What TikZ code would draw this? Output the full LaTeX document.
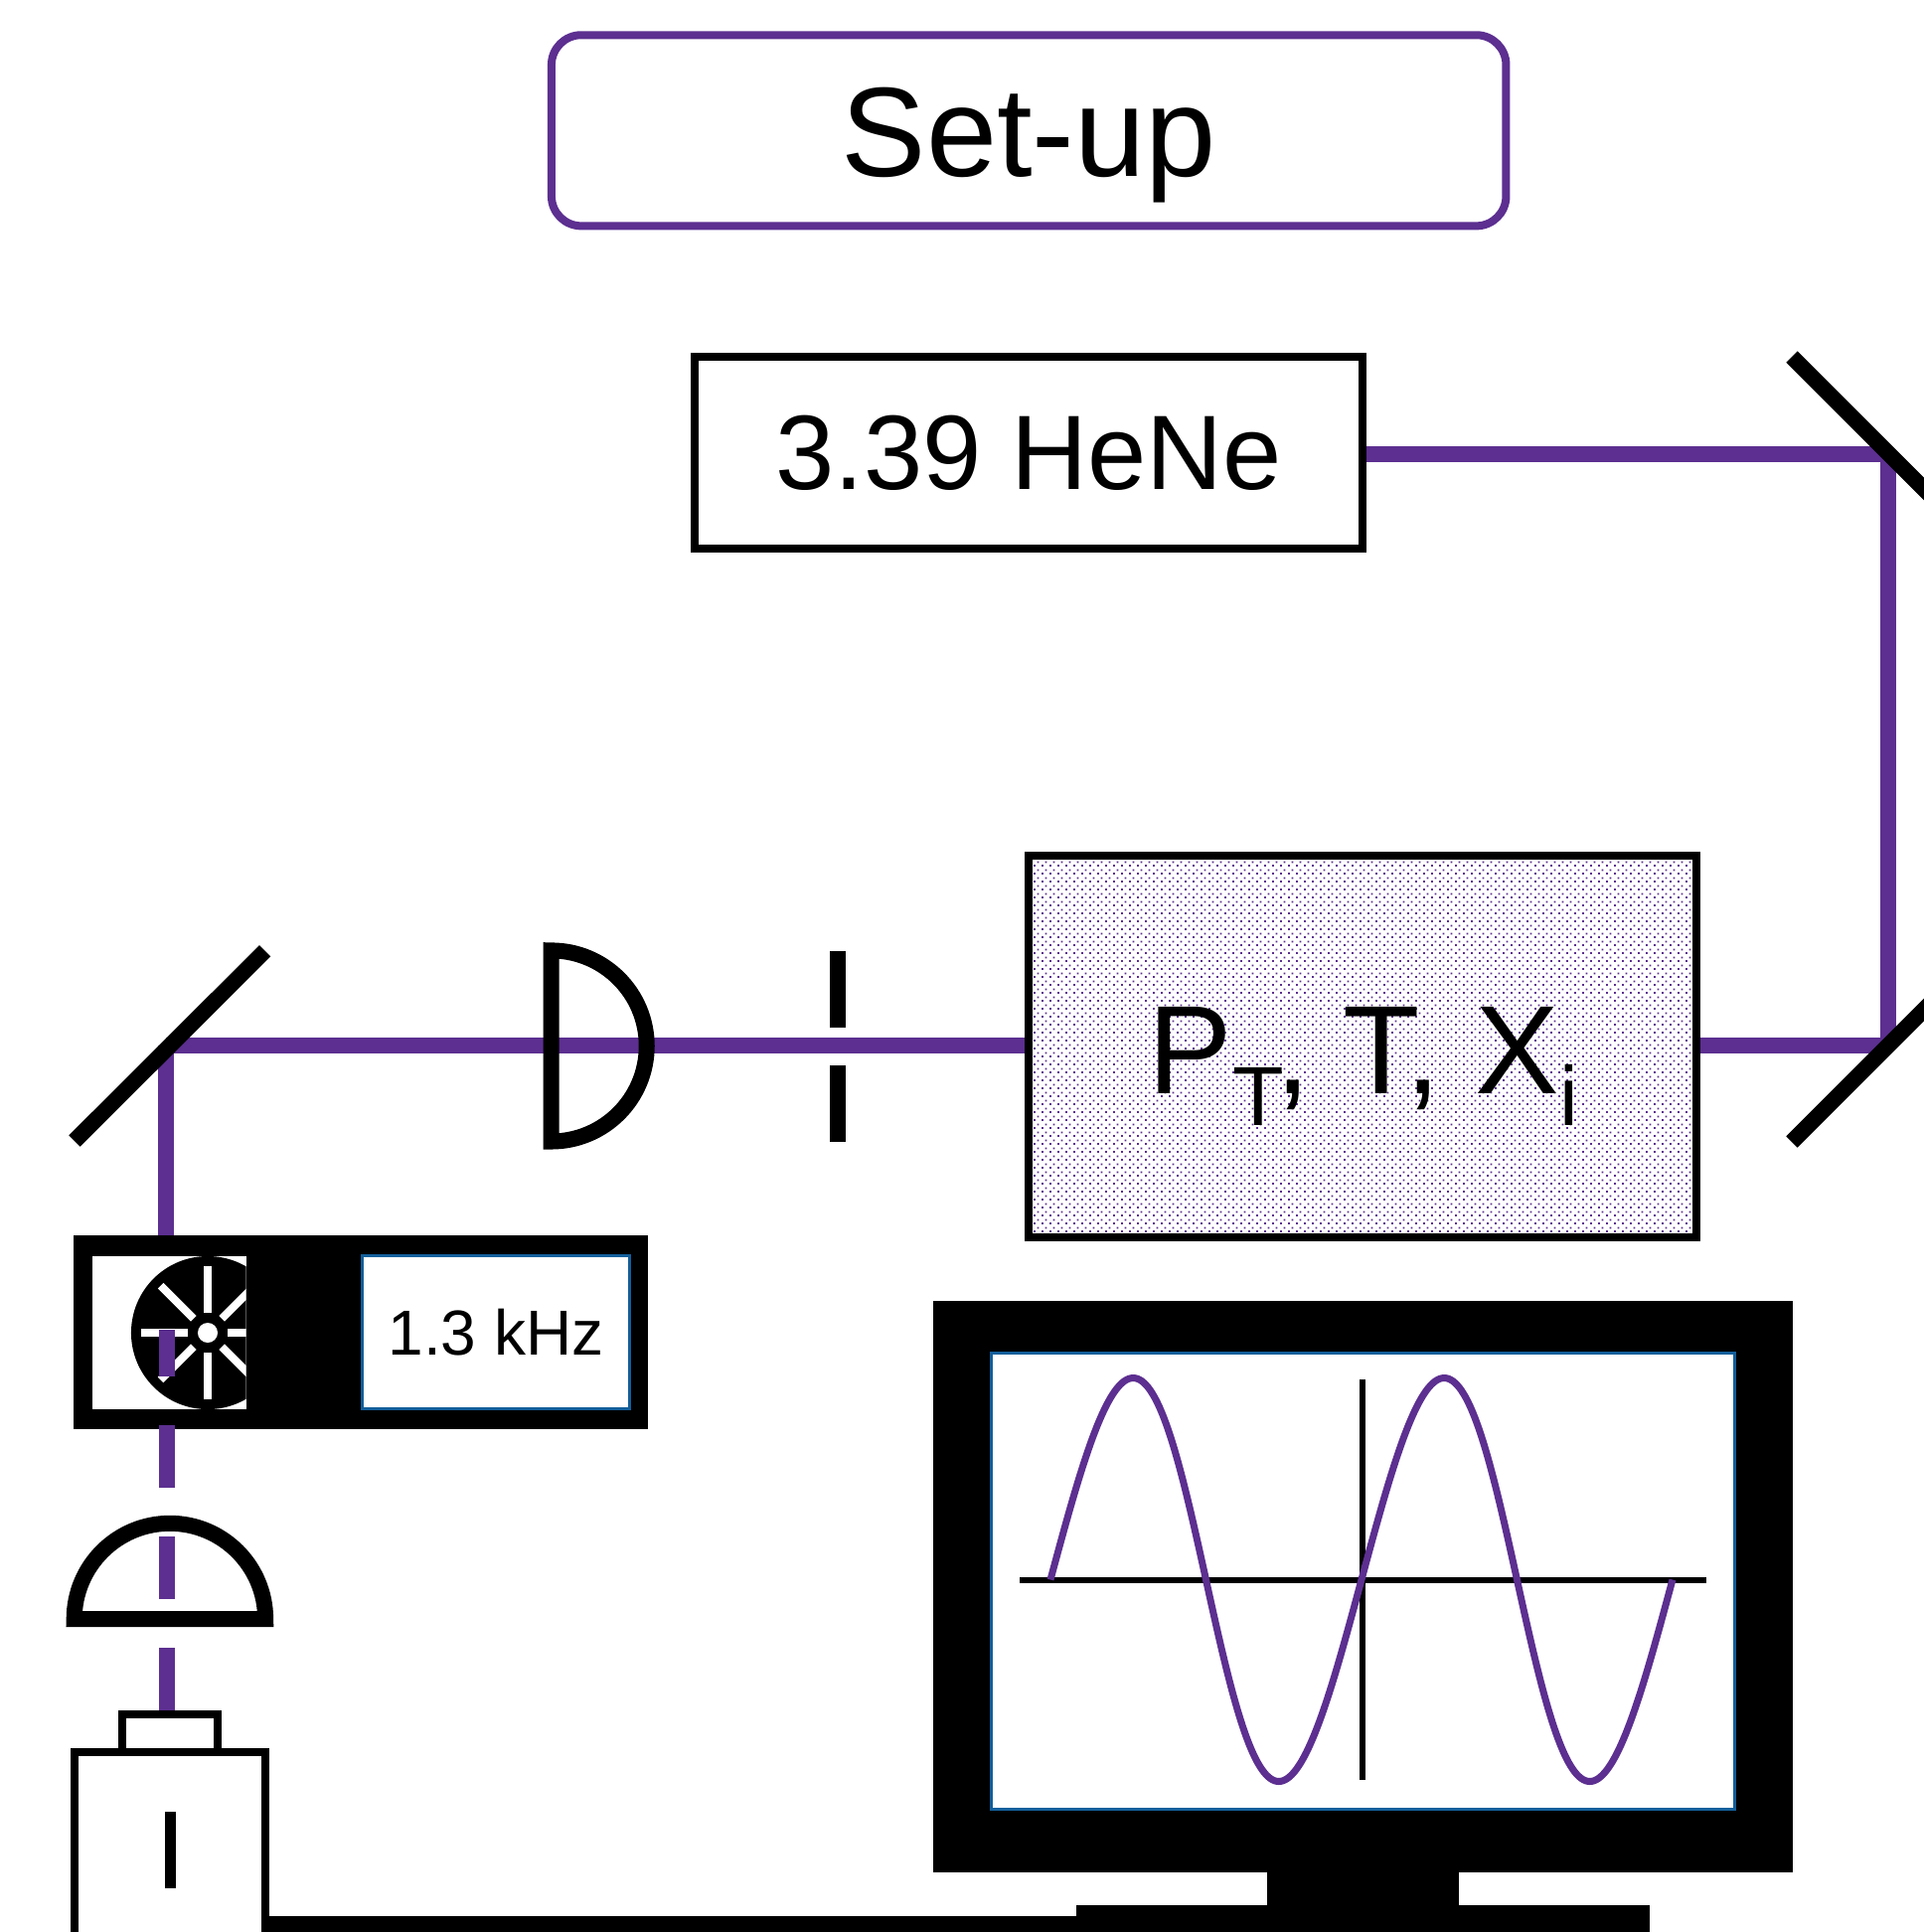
\documentclass[tikz,border=0pt]{standalone}
\usepackage{fontspec}
\setmainfont{Liberation Sans}
\usetikzlibrary{patterns}
\definecolor{beamPurple}{HTML}{5C2F90}
\definecolor{frameBlue}{HTML}{135F9B}
\pgfdeclarepatternformonly{celldots}{\pgfqpoint{0pt}{0pt}}{\pgfqpoint{2.276pt}{2.276pt}}{\pgfqpoint{2.276pt}{2.276pt}}{
	\pgfpathrectangle{\pgfqpoint{0pt}{0pt}}{\pgfqpoint{0.57pt}{0.57pt}}
	\pgfpathrectangle{\pgfqpoint{1.138pt}{1.138pt}}{\pgfqpoint{0.57pt}{0.57pt}}
	\pgfusepath{fill}
}
\tikzset{
	outline/.style={draw=black,line width=0.08cm,inner sep=0pt,outer sep=0.04cm},
	solidblock/.style={fill=black,inner sep=0pt,outer sep=0pt},
	readout/.style={draw=frameBlue,fill=white,line width=0.03cm,inner sep=0pt,outer sep=0pt},
	beam/.style={draw=beamPurple,line width=0.16cm},
	mirror/.style={draw=black,line width=0.16cm},
	lens/.style={draw=black,line width=0.16cm},
	spoke/.style={draw=white,line width=0.08cm},
	trace/.style={draw=beamPurple,line width=0.07cm},
	axisline/.style={draw=black,line width=0.065cm}
}
\begin{document}
\begin{tikzpicture}[x=0.01cm,y=-0.01cm]
	\clip (0,0) rectangle (1936,1944);

	\coordinate (mirTopA) at (1803,359);
	\coordinate (mirTopB) at (1960,516);
	\coordinate (mirLowA) at (1803,1149);
	\coordinate (mirLowB) at (1960,992);
	\coordinate (mirLeftA) at (75,1148);
	\coordinate (mirLeftB) at (266.7,956.7);
	\coordinate (turnTop) at (1900,457);
	\coordinate (turnLow) at (1900,1052.3);
	\coordinate (turnLeft) at (167.3,1052.3);
	\coordinate (wheelIn) at (168,1337.7);
	\coordinate (capIn) at (168,1720.7);
	\coordinate (chopIn) at (167.3,1250);
	\coordinate (hub) at (209,1341);
	\coordinate (irisTopA) at (843,957);
	\coordinate (irisTopB) at (843,1033.7);
	\coordinate (irisLowA) at (843,1072);
	\coordinate (irisLowB) at (843,1149);

	\node[outline,rounded corners=0.3cm,draw=beamPurple,minimum width=9.6cm,minimum height=1.92cm,font=\fontsize{36.4}{36}\selectfont,text depth=0pt] (title) at (1035.2,131.3) {\raisebox{-1pt}{Set-up}};
	\node[outline,minimum width=6.72cm,minimum height=1.924cm,font=\fontsize{30.3}{30}\selectfont] (laser) at (1035.2,455.5) {\raisebox{-0.7pt}{3.39 HeNe}};

	\draw[beam] (laser.east |- turnTop) -- (turnTop);
	\draw[beam] (turnTop) -- (turnLow);

	\node[outline,pattern=celldots,pattern color=beamPurple,minimum width=6.72cm,minimum height=3.84cm] (cell) at (1371,1053) {};
	\node[anchor=base west,inner sep=0pt,font=\fontsize{36}{36}\selectfont] (cellLabel) at (1155,1100.7) {P\raisebox{-9pt}{\fontsize{24}{24}\selectfont T}\kern-2.2pt,\kern-0.9pt\ T,\ X\raisebox{-9pt}{\fontsize{24}{24}\selectfont i}};

	\draw[beam] (cell.east |- turnLow) -- (turnLow);
	\draw[beam] (turnLeft) -- (cell.west |- turnLeft);
	\draw[beam] (turnLeft) -- (chopIn);

	\draw[mirror] (mirTopA) -- (mirTopB);
	\draw[mirror] (mirLowA) -- (mirLowB);
	\draw[mirror] (mirLeftA) -- (mirLeftB);

	\draw[lens] (554.7,956.4) arc (90:-90:0.96cm) -- cycle;
	\draw[line width=0.16cm] (irisTopA) -- (irisTopB);
	\draw[line width=0.16cm] (irisLowA) -- (irisLowB);

	\node[solidblock,minimum width=5.78cm,minimum height=1.95cm] (chopper) at (363,1340.8) {};
	\node[fill=white,inner sep=0pt,outer sep=0pt,minimum width=1.541cm,minimum height=1.54cm] (chopWindow) at (170.5,1341) {};
	\begin{scope}
		\clip (chopWindow.north west) rectangle (chopWindow.south east);
		\fill[black] (hub) circle (0.77cm);
		\fill[white] (hub) circle (0.1cm);
		\foreach \a in {0,45,...,315}
			\draw[spoke] ([shift={(\a:20)}]hub) -- ([shift={(\a:67)}]hub);
	\end{scope}
	\node[readout,minimum width=2.68cm,minimum height=1.54cm,font=\fontsize{18.2}{18}\selectfont] (freq) at (499,1340.6) {1.3 kHz};

	\draw[beam,dash pattern=on 17.92pt off 13.86pt] (capIn) -- (wheelIn);

	\draw[lens] (74.7,1629) arc (180:0:0.9615cm) -- cycle;

	\node[outline,minimum width=1.92cm,minimum height=3.45cm] (detector) at (171,1935.5) {};
	\node[outline,minimum width=0.96cm,minimum height=0.38cm] (cap) at (171,1744) {};
	\coordinate (slotA) at (171.5,1823);
	\coordinate (slotB) at (171.5,1900);
	\draw[line width=0.11cm] (slotA) -- (slotB);

	\node[solidblock,minimum width=8.65cm,minimum height=5.75cm] (monitor) at (1371.5,1596.5) {};
	\node[solidblock,minimum width=1.92cm,minimum height=0.4cm] (neck) at (1371.5,1900) {};
	\node[solidblock,minimum width=5.76cm,minimum height=0.37cm] (stand) at (1371.5,1935.5) {};
	\draw[line width=0.16cm] (detector.east) -- (stand.west);
	\node[readout,minimum width=7.48cm,minimum height=4.59cm] (screen) at (1371.5,1591) {};
	\coordinate (axisWest) at (1026,1590);
	\coordinate (axisEast) at (1717,1590);
	\coordinate (axisNorth) at (1371,1388);
	\coordinate (axisSouth) at (1371,1791);
	\draw[axisline] (axisWest) -- (axisEast);
	\draw[axisline] (axisNorth) -- (axisSouth);
	\draw[trace] plot[domain=0:720,samples=145,smooth] ({1057+\x*0.8694+5*sin(\x)},{1589.5-203*sin(\x)});
\end{tikzpicture}
\end{document}
